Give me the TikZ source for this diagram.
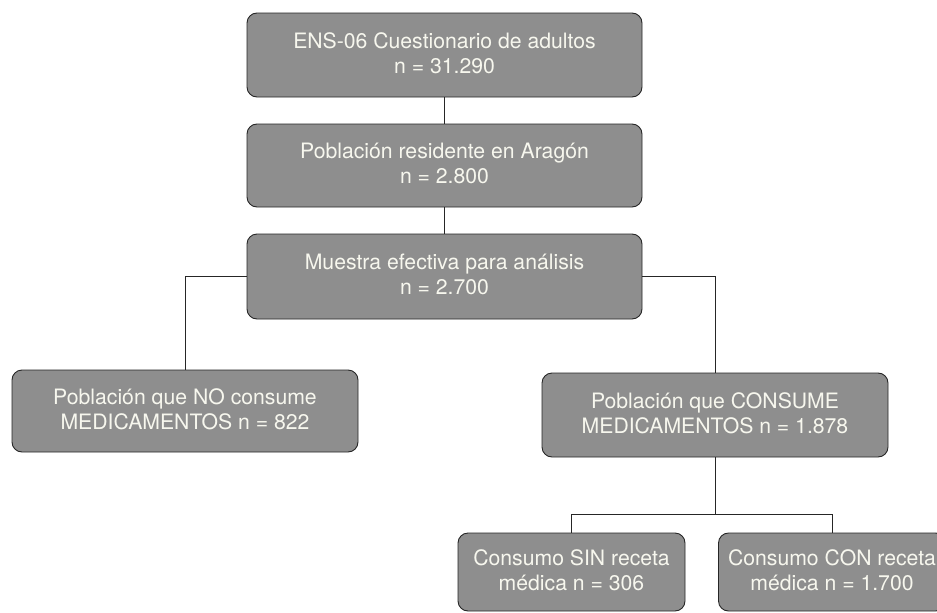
\documentclass[tikz,border=0pt]{standalone}
\usepackage{fontspec}
\setmainfont{TeX Gyre Heros}
\usepackage{xcolor}
\usepackage{tikz}
\usetikzlibrary{positioning,calc}
\definecolor{cajagris}{HTML}{8E8E8E}
\definecolor{textocaja}{HTML}{F7F7EE}

\begin{document}
\begin{tikzpicture}[x=1pt,y=-1pt,
		caja/.style={draw=black!85,fill=cajagris,rounded corners=10pt,line width=0.9pt,
			text=textocaja,align=center,inner sep=0pt,text depth=4pt,
			font=\fontsize{21.2}{25}\selectfont},
		linea/.style={draw=black!85,line width=0.9pt}]
		\useasboundingbox (0,0) rectangle (937,613);
		\clip (0,0) rectangle (937,613);
		\node[caja,minimum width=395pt,minimum height=84pt] (ens) at (444.5,55) {ENS-06 Cuestionario de adultos\\n = 31.290};
		\node[caja,minimum width=395pt,minimum height=83pt] (aragon) at (444.5,165.5) {Población residente en Aragón\\n = 2.800};
		\node[caja,minimum width=395pt,minimum height=85pt] (muestra) at (444.5,276.5) {Muestra efectiva para análisis\\n = 2.700};
		\node[caja,minimum width=346pt,minimum height=82pt] (noconsume) at (185,411) {Población que NO consume\\MEDICAMENTOS n = 822};
		\node[caja,minimum width=346pt,minimum height=84pt] (consume) at (715,415) {Población que CONSUME\\MEDICAMENTOS n = 1.878};
		\node[caja,minimum width=227pt,minimum height=78pt] (sinreceta) at (571.5,572) {Consumo SIN receta\\médica n = 306};
		\node[caja,minimum width=227pt,minimum height=78pt] (conreceta) at (832,572) {Consumo CON receta\\médica n = 1.700};
		\coordinate (split) at (715,514);
		\draw[linea] (ens.south) -- (aragon.north);
		\draw[linea] (aragon.south) -- (muestra.north);
		\draw[linea] (muestra.west) -| (noconsume.north);
		\draw[linea] (muestra.east) -| (consume.north);
		\draw[linea] (consume.south) -- (split);
		\draw[linea] (split) -| (sinreceta.north);
		\draw[linea] (split) -| (conreceta.north);
	\end{tikzpicture}
\end{document}
